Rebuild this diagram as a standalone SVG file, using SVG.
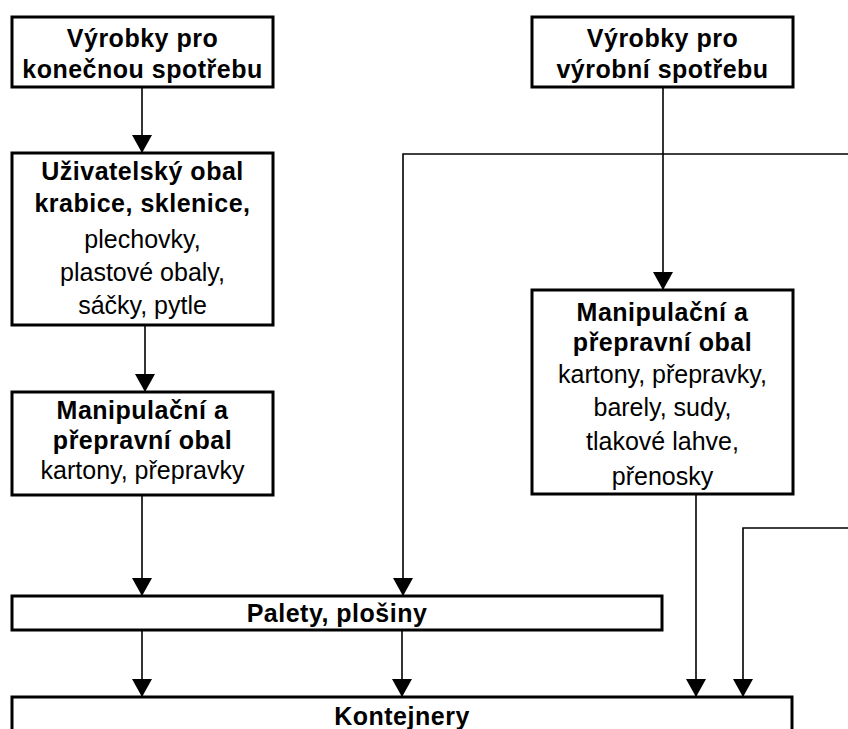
<svg xmlns="http://www.w3.org/2000/svg" width="848" height="729" viewBox="0 0 848 729">
<defs>
<style>
.box{fill:#fff;stroke:#000;stroke-width:3}
.t{font-family:"Liberation Sans",Arial,sans-serif;font-size:25px;text-anchor:middle;fill:#000}
.b{font-weight:bold;letter-spacing:0.5px}
.c{fill:none;stroke:#000;stroke-width:1.6}
</style>
</defs>
<rect width="848" height="729" fill="#fff"/>
<g id="connectors">
<path class="c" d="M142,87 V153"/>
<path class="c" d="M145,325 V392"/>
<path class="c" d="M142,495 V596"/>
<path class="c" d="M663,87 V290"/>
<path class="c" d="M848,154 H403 V596"/>
<path class="c" d="M142,630 V697"/>
<path class="c" d="M402,630 V697"/>
<path class="c" d="M696,494 V697"/>
<path class="c" d="M848,528 H743 V697"/>
<g fill="#000">
<path d="M132,135 L152,135 L142,153 Z"/>
<path d="M135,374 L155,374 L145,392 Z"/>
<path d="M132,578 L152,578 L142,596 Z"/>
<path d="M653,272 L673,272 L663,290 Z"/>
<path d="M393,578 L413,578 L403,596 Z"/>
<path d="M132,679 L152,679 L142,697 Z"/>
<path d="M392,679 L412,679 L402,697 Z"/>
<path d="M686,679 L706,679 L696,697 Z"/>
<path d="M733,679 L753,679 L743,697 Z"/>
</g>
</g>
<g id="n1">
<rect class="box" x="12" y="17" width="261" height="70"/>
<text class="t b" x="142.5" y="47">Výrobky pro</text>
<text class="t b" x="142.5" y="78">konečnou spotřebu</text>
</g>
<g id="n2">
<rect class="box" x="532" y="17" width="261" height="70"/>
<text class="t b" x="662.5" y="47">Výrobky pro</text>
<text class="t b" x="662.5" y="78">výrobní spotřebu</text>
</g>
<g id="n3">
<rect class="box" x="12" y="153" width="261" height="172"/>
<text class="t b" x="142.5" y="180">Uživatelský obal</text>
<text class="t b" x="142.5" y="212">krabice, sklenice,</text>
<text class="t" x="142.5" y="248">plechovky,</text>
<text class="t" x="142.5" y="281">plastové obaly,</text>
<text class="t" x="142.5" y="314">sáčky, pytle</text>
</g>
<g id="n4">
<rect class="box" x="12" y="392" width="261" height="103"/>
<text class="t b" x="142.5" y="419">Manipulační a</text>
<text class="t b" x="142.5" y="449">přepravní obal</text>
<text class="t" x="142.5" y="479">kartony, přepravky</text>
</g>
<g id="n5">
<rect class="box" x="532" y="290" width="261" height="204"/>
<text class="t b" x="662.5" y="321">Manipulační a</text>
<text class="t b" x="662.5" y="351">přepravní obal</text>
<text class="t" x="662.5" y="383">kartony, přepravky,</text>
<text class="t" x="662.5" y="416">barely, sudy,</text>
<text class="t" x="662.5" y="450">tlakové lahve,</text>
<text class="t" x="662.5" y="485">přenosky</text>
</g>
<g id="n6">
<rect class="box" x="12" y="596" width="650" height="34"/>
<text class="t b" x="337" y="622">Palety, plošiny</text>
</g>
<g id="n7">
<rect class="box" x="12" y="697" width="780" height="50"/>
<text class="t b" x="402" y="725">Kontejnery</text>
</g>
</svg>
